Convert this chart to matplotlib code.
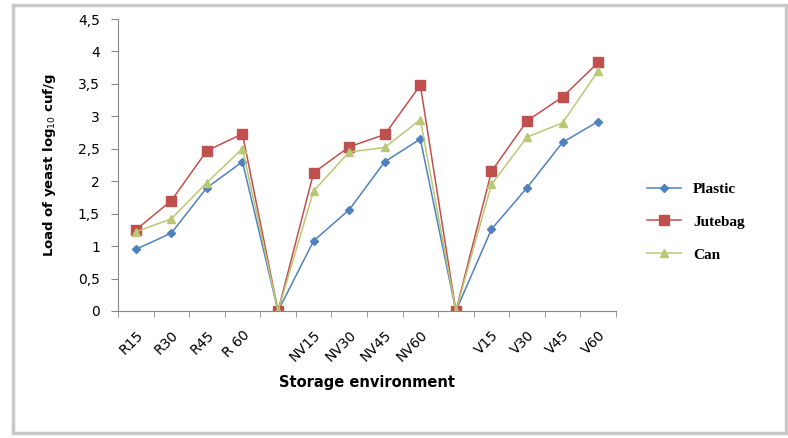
import numpy as np
import matplotlib.pyplot as plt
from matplotlib.patches import Rectangle

categories = ['R15', 'R30', 'R45', 'R 60', '', 'NV15', 'NV30', 'NV45', 'NV60', '',
              'V15', 'V30', 'V45', 'V60']
plastic = [0.95, 1.2, 1.9, 2.3, 0, 1.08, 1.56, 2.3, 2.65, 0, 1.26, 1.9, 2.6, 2.92]
jutebag = [1.25, 1.7, 2.47, 2.73, 0, 2.13, 2.53, 2.72, 3.48, 0, 2.15, 2.93, 3.3, 3.83]
can = [1.22, 1.42, 1.98, 2.5, 0, 1.85, 2.45, 2.52, 2.95, 0, 1.95, 2.68, 2.9, 3.7]
yticks = [0, 0.5, 1, 1.5, 2, 2.5, 3, 3.5, 4, 4.5]

fig = plt.figure(figsize=(7.88, 4.38), dpi=100)
fig.patches.append(Rectangle((0.016, 0.012), 0.982, 0.976, transform=fig.transFigure,
                             fill=False, edgecolor='#c8c8c8', linewidth=2.5))
ax = fig.add_axes([0.1497, 0.29, 0.632, 0.6666])

x = np.arange(len(categories))
ax.plot(x, plastic, color='#4F81BD', marker='D', markersize=4, linewidth=1.1, label='Plastic')
ax.plot(x, jutebag, color='#C0504D', marker='s', markersize=6.5, linewidth=1.1, label='Jutebag')
ax.plot(x, can, color='#BCC774', marker='^', markersize=6, linewidth=1.1, label='Can')

ax.set_xlim(-0.5, len(categories) - 0.5)
ax.set_ylim(0, 4.5)
ax.set_yticks(yticks)
ax.set_yticklabels([('%g' % v).replace('.', ',') for v in yticks], fontsize=10)
ax.set_xticks(x)
ax.set_xticklabels(categories, rotation=45, ha='right', rotation_mode='anchor', fontsize=10)
ax.set_xticks(np.arange(len(categories) + 1) - 0.5, minor=True)
ax.tick_params(axis='x', which='major', length=0, pad=12)
ax.tick_params(axis='x', which='minor', length=4, direction='out', color='#888888')
ax.tick_params(axis='y', length=5, pad=8, color='#888888')
for s in ['top', 'right']:
    ax.spines[s].set_visible(False)
for s in ['left', 'bottom']:
    ax.spines[s].set_color('#888888')

ax.set_xlabel('Storage environment', fontsize=10.5, fontweight='bold', labelpad=8)
ax.set_ylabel('Load of yeast log$_{10}$ cuf/g', fontsize=9.5, fontweight='bold')
ax.yaxis.set_label_coords(-0.12, 0.5)

ax.legend(loc='center left', bbox_to_anchor=(1.035, 0.305), frameon=False,
          prop={'family': 'Liberation Serif', 'weight': 'bold', 'size': 11},
          handlelength=2.2, labelspacing=1.25)

plt.savefig('out.png', dpi=100)
